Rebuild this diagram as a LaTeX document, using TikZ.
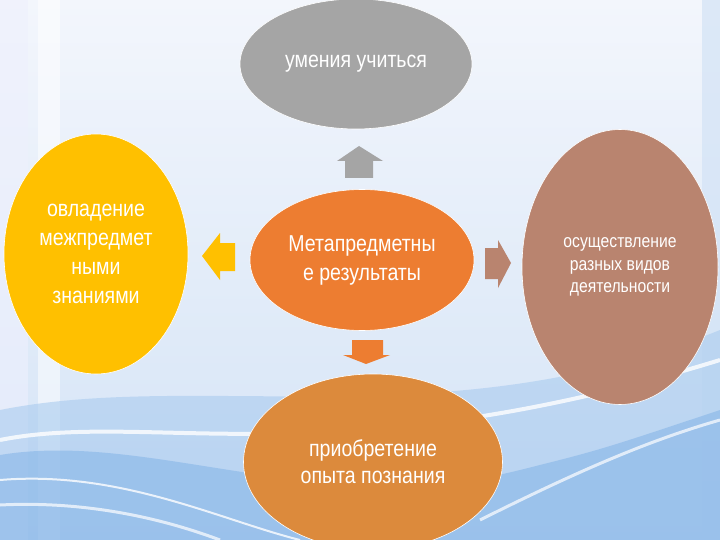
\documentclass[tikz,border=0pt]{standalone}
\usepackage{fontspec}
\setmainfont{Liberation Sans}[FakeStretch=0.85]
\usetikzlibrary{shapes.geometric}

\definecolor{skillgray}{HTML}{A5A5A5}
\definecolor{metaorange}{HTML}{ED7D31}
\definecolor{interyellow}{HTML}{FFC000}
\definecolor{actbrown}{HTML}{B9846F}
\definecolor{exporange}{HTML}{DC8A3C}
\definecolor{bgtop}{HTML}{F3F6FC}
\definecolor{bgbottom}{HTML}{D3E3F6}
\definecolor{wavelight}{HTML}{A9CBEF}
\definecolor{wavedark}{HTML}{7DB0E6}

\begin{document}
\begin{tikzpicture}[x=1pt, y=-1pt,
  bubble/.style={ellipse, inner sep=0pt, text=white, align=center, draw=white, line width=0.6pt,
    font=\fontsize{23}{29}\selectfont}]
\clip (0,0) rectangle (720,540);
% background
\shade[top color=bgtop, bottom color=bgbottom] (0,0) rectangle (720,540);
\fill[bgbottom!80!blue!20, opacity=0.6] (0,0) rectangle (28,540);
\fill[white, opacity=0.5] (38,0) rectangle (60,540);
\fill[bgbottom, opacity=0.7] (702,0) rectangle (720,540);
\fill[wavelight, opacity=0.6] (0,410) .. controls (200,370) and (450,440) .. (720,330) -- (720,540) -- (0,540) -- cycle;
\fill[wavedark, opacity=0.5] (0,455) .. controls (150,430) and (320,520) .. (520,470) .. controls (600,450) .. (720,410) -- (720,540) -- (0,540) -- cycle;
\draw[white, line width=4, opacity=0.8] (0,440) .. controls (150,410) and (330,480) .. (720,360);
\draw[white, line width=2, opacity=0.8] (0,480) .. controls (120,470) and (220,520) .. (300,540);
\draw[white, line width=3, opacity=0.7] (0,505) .. controls (100,500) and (180,525) .. (220,540);
\draw[white, line width=3, opacity=0.7] (480,520) .. controls (580,470) and (650,440) .. (720,420);

% ellipses
\node[bubble, fill=skillgray, minimum width=232, minimum height=130] (skills) at (356,64)
  {умения учиться};
\node[bubble, fill=metaorange, minimum width=224, minimum height=141] (meta) at (362,260)
  {Метапредметны\\е результаты};
\node[bubble, fill=interyellow, minimum width=184, minimum height=240] (inter) at (96,254)
  {овладение\\межпредмет\\ными\\знаниями};
\node[bubble, fill=actbrown, minimum width=196, minimum height=275, font=\fontsize{18.5}{22.5}\selectfont] (act) at (620,267)
  {осуществление\\разных видов\\деятельности};
\node[bubble, fill=exporange, minimum width=259, minimum height=176, font=\fontsize{23}{27}\selectfont] (exp) at (373,462)
  {приобретение\\опыта познания};

% block arrows
\fill[skillgray] (359,146) -- (383,161) -- (373,161) -- (373,178) -- (345,178) -- (345,161) -- (337,161) -- cycle;
\fill[interyellow] (202,256) -- (220,233) -- (220,243) -- (235,243) -- (235,271) -- (220,271) -- (220,280) -- cycle;
\fill[actbrown] (511,263) -- (498,240) -- (498,248) -- (485,248) -- (485,279) -- (498,279) -- (498,288) -- cycle;
\fill[metaorange] (366,364) -- (390,355) -- (383,355) -- (383,340) -- (352,340) -- (352,355) -- (343,355) -- cycle;
\end{tikzpicture}
\end{document}
